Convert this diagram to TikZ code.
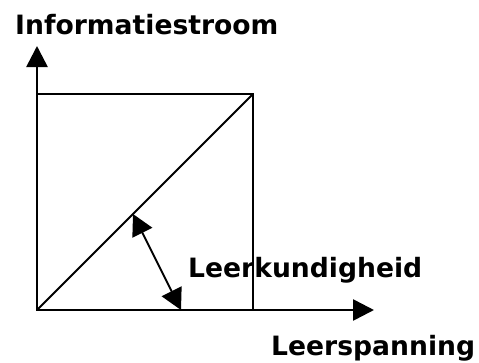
\documentclass[tikz,border=0pt]{standalone}
\usepackage{fontspec}
\setmainfont{DejaVu Sans}
\usetikzlibrary{arrows.meta, positioning}

\begin{document}
\begin{tikzpicture}[x=1pt, y=-1pt,
  every node/.style={font=\fontsize{26.6}{32}\selectfont\bfseries, inner sep=0pt, anchor=base west},
  axis/.style={line width=2.6pt, -{Triangle[length=21pt, width=21pt]}},
  frame/.style={line width=1.8pt},
  angle/.style={line width=1.8pt, {Triangle[length=21pt, width=22pt]}-{Triangle[length=21pt, width=22pt]}},
]
\useasboundingbox (0,0) rectangle (479,362);

% axes and frame
\coordinate (orig) at (37,310);
\coordinate (ytop) at (37,46);
\coordinate (xend) at (374,310);
\coordinate (corner) at (253,94);
\coordinate (diag) at (133,214);
\coordinate (foot) at (181,310);

\draw[frame] (orig) rectangle (corner);
\draw[frame] (orig) -- (corner);
\draw[axis] (orig) -- (ytop);
\draw[axis] (orig) -- (xend);
\draw[angle] (diag) -- (foot);

% labels
\node (info) at (15,34) {Informatiestroom};
\node (kund) at (188,277) {Leerkundigheid};
\node (span) at (271,355) {Leerspanning};

\end{tikzpicture}
\end{document}
